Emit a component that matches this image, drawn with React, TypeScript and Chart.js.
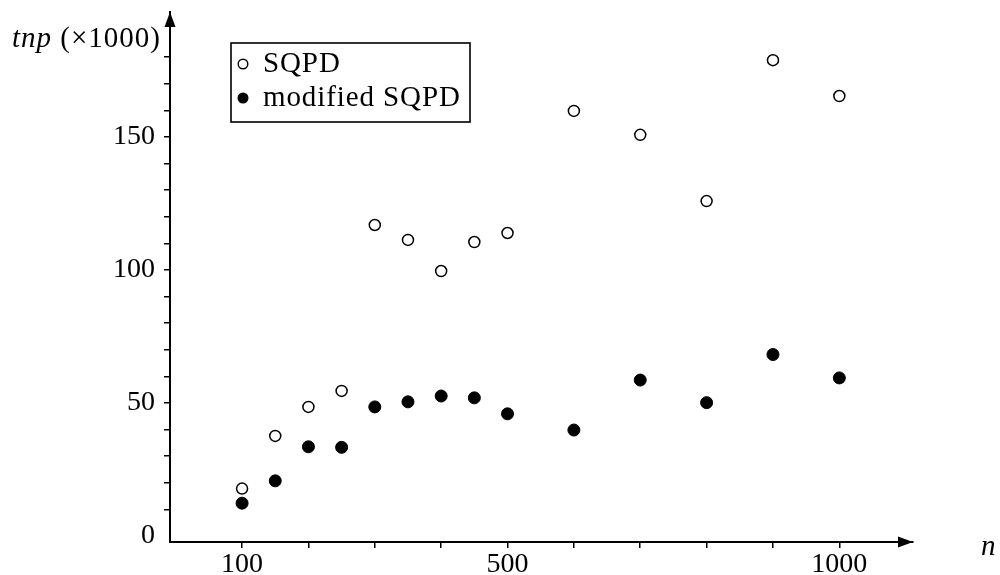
import React, { useEffect, useRef } from "react";
import { Chart, registerables } from "chart.js";

Chart.register(...registerables);

// ---- data ----
const nValues = [100, 150, 200, 250, 300, 350, 400, 450, 500, 600, 700, 800, 900, 1000];
const sqpdValues = [17.8, 37.6, 48.5, 54.5, 116.9, 111.3, 99.6, 110.5, 113.9, 159.8, 150.8, 125.9, 178.9, 165.4];
const modifiedValues = [12.3, 20.7, 33.5, 33.3, 48.5, 50.4, 52.6, 51.9, 45.9, 39.8, 58.6, 50.1, 68.2, 59.4];

const seriesLabels = ["SQPD", "modified SQPD"];

const xTickValues = [100, 200, 300, 400, 500, 600, 700, 800, 900, 1000];
const xTickLabels = [100, 500, 1000];
const yTickValues = [0, 10, 20, 30, 40, 50, 60, 70, 80, 90, 100, 110, 120, 130, 140, 150, 160, 170, 180];
const yTickLabels = [0, 50, 100, 150];

const yTitleItalic = "tnp";
const yTitleUpright = " (×1000)";
const xTitle = "n";

const FONT = "'Liberation Serif', 'Times New Roman', serif";

const decorPlugin = {
  id: "decor",
  afterDraw(chart: any) {
    const { ctx, chartArea } = chart;
    const { left, right, top, bottom } = chartArea;
    ctx.save();
    ctx.fillStyle = "#000";
    ctx.strokeStyle = "#000";
    // arrowheads
    const aL = 15;
    const aW = 5.5;
    ctx.beginPath();
    ctx.moveTo(left, top);
    ctx.lineTo(left - aW, top + aL);
    ctx.lineTo(left + aW, top + aL);
    ctx.closePath();
    ctx.fill();
    ctx.beginPath();
    ctx.moveTo(right, bottom);
    ctx.lineTo(right - aL, bottom - aW);
    ctx.lineTo(right - aL, bottom + aW);
    ctx.closePath();
    ctx.fill();

    // axis titles
    ctx.textBaseline = "alphabetic";
    ctx.textAlign = "left";
    ctx.letterSpacing = "1px";
    ctx.font = `italic 29px ${FONT}`;
    ctx.fillText(yTitleItalic, 12, 47);
    const w = ctx.measureText(yTitleItalic).width;
    ctx.font = `29px ${FONT}`;
    ctx.fillText(yTitleUpright, 12 + w, 47);
    ctx.font = `italic 29px ${FONT}`;
    ctx.fillText(xTitle, 981, 555);

    // legend box
    const bx = 231, by = 43, bw = 239, bh = 79;
    ctx.fillStyle = "#fff";
    ctx.fillRect(bx, by, bw, bh);
    ctx.lineWidth = 1.6;
    ctx.strokeStyle = "#000";
    ctx.strokeRect(bx, by, bw, bh);
    const rows = [
      { y: 64, base: 72, filled: false },
      { y: 98, base: 106, filled: true },
    ];
    chart.data.datasets.forEach((ds: any, i: number) => {
      const r = rows[i];
      ctx.beginPath();
      ctx.arc(243, r.y, r.filled ? 5.5 : 4.8, 0, Math.PI * 2);
      if (r.filled) {
        ctx.fillStyle = "#000";
        ctx.fill();
      } else {
        ctx.fillStyle = "#fff";
        ctx.fill();
        ctx.lineWidth = 1.4;
        ctx.stroke();
      }
      ctx.fillStyle = "#000";
      ctx.font = `29px ${FONT}`;
      ctx.letterSpacing = "0.9px";
      ctx.fillText(ds.label, 263, r.base);
    });
    ctx.restore();
  },
};

export default function App() {
  const canvasRef = useRef<HTMLCanvasElement | null>(null);

  useEffect(() => {
    if (!canvasRef.current) return;
    const chart = new Chart(canvasRef.current, {
      type: "scatter",
      data: {
        datasets: [
          {
            label: seriesLabels[0],
            data: nValues.map((n, i) => ({ x: n, y: sqpdValues[i] })),
            pointRadius: 5.5,
            pointBackgroundColor: "#fff",
            pointBorderColor: "#000",
            pointBorderWidth: 1.5,
          },
          {
            label: seriesLabels[1],
            data: nValues.map((n, i) => ({ x: n, y: modifiedValues[i] })),
            pointRadius: 6,
            pointBackgroundColor: "#000",
            pointBorderColor: "#000",
            pointBorderWidth: 1,
          },
        ],
      },
      options: {
        animation: false,
        responsive: false,
        layout: { padding: { top: 12, right: 87, left: 0, bottom: 0 } },
        plugins: { legend: { display: false }, tooltip: { enabled: false } },
        scales: {
          x: {
            type: "linear",
            min: -8.6,
            max: 1111,
            afterFit(scale: any) {
              scale.height = 33;
              scale.paddingLeft = 0;
              scale.paddingRight = 0;
              scale.paddingTop = 0;
              scale.paddingBottom = 0;
            },
            afterBuildTicks(scale: any) {
              scale.ticks = xTickValues.map((v) => ({ value: v }));
            },
            grid: {
              drawOnChartArea: false,
              drawTicks: true,
              tickLength: 6,
              color: "#000",
              lineWidth: 1.5,
            },
            border: { display: true, color: "#000", width: 2 },
            ticks: {
              autoSkip: false,
              maxRotation: 0,
              padding: 0,
              color: "#000",
              font: { family: FONT, size: 28 },
              callback: (v: any) => (xTickLabels.includes(Number(v)) ? String(v) : ""),
            },
          },
          y: {
            type: "linear",
            min: -2.3,
            max: 197,
            afterFit(scale: any) {
              scale.width = 170;
              scale.paddingLeft = 0;
              scale.paddingRight = 0;
              scale.paddingTop = 0;
              scale.paddingBottom = 0;
            },
            afterBuildTicks(scale: any) {
              scale.ticks = yTickValues.map((v) => ({ value: v }));
            },
            grid: {
              drawOnChartArea: false,
              drawTicks: true,
              tickLength: 6,
              color: (c: any) => (c.tick && c.tick.value === 0 ? "rgba(0,0,0,0)" : "#000"),
              lineWidth: 1.5,
            },
            border: { display: true, color: "#000", width: 2 },
            ticks: {
              autoSkip: false,
              padding: 9,
              color: "#000",
              font: { family: FONT, size: 28 },
              callback: (v: any) => (yTickLabels.includes(Number(v)) ? String(v) : ""),
            },
          },
        },
      },
      plugins: [decorPlugin],
    });
    return () => chart.destroy();
  }, []);

  return (
    <div style={{ position: "absolute", left: 0, top: 0, width: 1000, height: 575, background: "#fff" }}>
      <canvas ref={canvasRef} width={1000} height={575} style={{ display: "block" }} />
    </div>
  );
}
